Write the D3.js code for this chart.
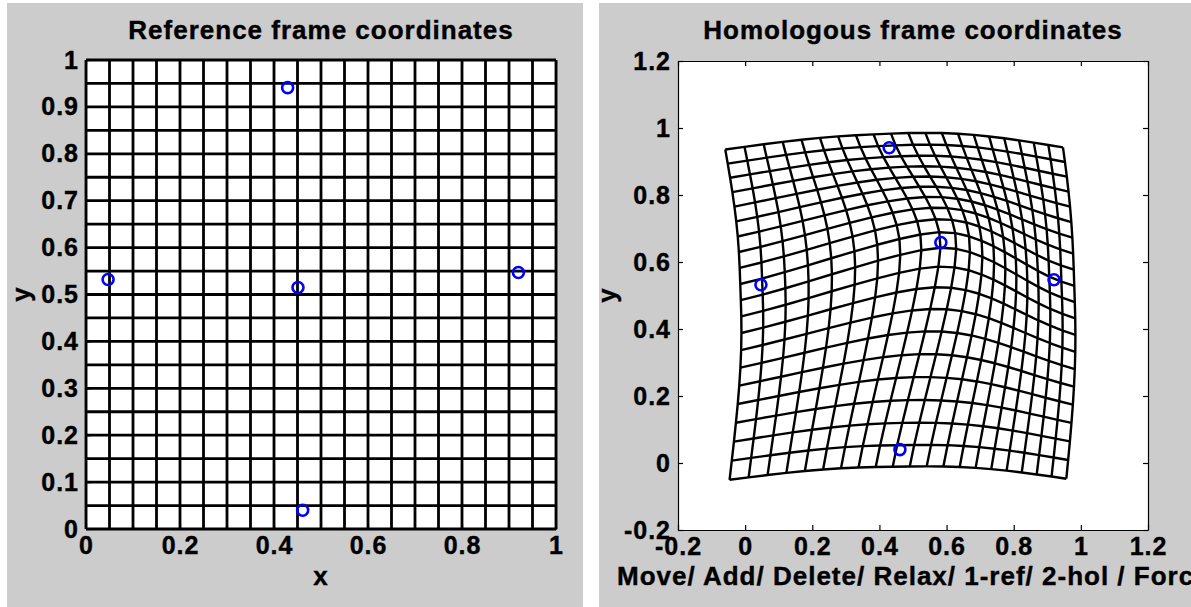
<!DOCTYPE html>
<html><head><meta charset="utf-8">
<script src="https://cdn.jsdelivr.net/npm/d3@7"></script>
<style>
body{margin:0;background:#fff}
svg{display:block}
text{font-family:"Liberation Sans",Arial,sans-serif;font-weight:bold;fill:#000}
</style>
</head><body>
<svg id="c" width="1191" height="607"></svg>
<script>
// ---------- data ----------
const gridLevels = [0,0.05,0.1,0.15,0.2,0.25,0.3,0.35,0.4,0.45,0.5,0.55,0.6,0.65,0.7,0.75,0.8,0.85,0.9,0.95,1];
const refX = [0.047,0.429,0.451,0.920,0.461];
const refY = [0.532,0.941,0.515,0.547,0.040];
const homX = [0.047,0.429,0.583,0.920,0.461];
const homY = [0.532,0.941,0.658,0.547,0.040];
const leftXTicks = [0,0.2,0.4,0.6,0.8,1];
const leftYTicks = [0,0.1,0.2,0.3,0.4,0.5,0.6,0.7,0.8,0.9,1];
const rightTicks = [-0.2,0,0.2,0.4,0.6,0.8,1,1.2];
const titles = ["Reference frame coordinates","Homologous frame coordinates"];
const xLabels = ["x","Move/ Add/ Delete/ Relax/ 1-ref/ 2-hol / Forc"];
const yLabel = "y";

// ---------- thin-plate spline from landmarks ----------
function U(r2){ return r2 === 0 ? 0 : r2*Math.log(r2); }
function solve(A, b){
  const n = b.length, M = A.map((r,i)=>r.concat([b[i]]));
  for(let c=0;c<n;c++){
    let p=c; for(let r=c+1;r<n;r++) if(Math.abs(M[r][c])>Math.abs(M[p][c])) p=r;
    [M[c],M[p]]=[M[p],M[c]];
    for(let r=0;r<n;r++){ if(r===c) continue; const f=M[r][c]/M[c][c]; for(let k=c;k<=n;k++) M[r][k]-=f*M[c][k]; }
  }
  return M.map((r,i)=>r[n]/r[i]);
}
const nL = refX.length;
const L = [];
for(let i=0;i<nL+3;i++){ L.push(new Array(nL+3).fill(0)); }
for(let i=0;i<nL;i++){
  for(let j=0;j<nL;j++){ const dx=refX[i]-refX[j], dy=refY[i]-refY[j]; L[i][j]=U(dx*dx+dy*dy); }
  L[i][nL]=1; L[i][nL+1]=refX[i]; L[i][nL+2]=refY[i];
  L[nL][i]=1; L[nL+1][i]=refX[i]; L[nL+2][i]=refY[i];
}
const cX = solve(L, homX.concat([0,0,0]));
const cY = solve(L, homY.concat([0,0,0]));
function warp(x,y){
  let wx=cX[nL]+cX[nL+1]*x+cX[nL+2]*y, wy=cY[nL]+cY[nL+1]*x+cY[nL+2]*y;
  for(let i=0;i<nL;i++){ const dx=x-refX[i], dy=y-refY[i], u=U(dx*dx+dy*dy); wx+=cX[i]*u; wy+=cY[i]*u; }
  return [wx,wy];
}

// ---------- drawing ----------
const svg = d3.select("#c");
const fmt = v => String(Math.round(v*10)/10);
svg.append("rect").attr("x",7).attr("y",3).attr("width",576).attr("height",604).attr("fill","#cccccc");
svg.append("rect").attr("x",599).attr("y",3).attr("width",592).attr("height",604).attr("fill","#cccccc");
svg.append("clipPath").attr("id","rclip").append("rect").attr("x",599).attr("y",3).attr("width",592).attr("height",604);

function panel(opt){
  const g = svg.append("g");
  const x = d3.scaleLinear().domain(opt.xd).range(opt.xr);
  const y = d3.scaleLinear().domain(opt.yd).range(opt.yr);
  g.append("rect").attr("x",opt.xr[0]).attr("y",opt.yr[1]).attr("width",opt.xr[1]-opt.xr[0]).attr("height",opt.yr[0]-opt.yr[1]).attr("fill","#fff");
  const tsize = -5;
  const axes = [
    [d3.axisBottom(x).tickValues(opt.xt).tickFormat(fmt), opt.yr[0], 0],
    [d3.axisTop(x).tickValues(opt.xt).tickFormat(""), opt.yr[1], 0],
    [d3.axisLeft(y).tickValues(opt.yt).tickFormat(fmt), 0, opt.xr[0]],
    [d3.axisRight(y).tickValues(opt.yt).tickFormat(""), 0, opt.xr[1]]
  ];
  axes.forEach(([ax,ty,tx],i)=>{
    const a = g.append("g").attr("transform",`translate(${tx},${ty})`)
      .call(ax.tickSizeInner(tsize).tickSizeOuter(0).tickPadding(7));
    a.select(".domain").attr("stroke","#000").attr("stroke-width",1.2);
    a.selectAll(".tick line").attr("stroke","#000").attr("stroke-width",1.2);
    a.selectAll(".tick text").attr("font-size",25).attr("letter-spacing","1px")
      .attr("font-family",'"Liberation Sans",Arial,sans-serif').attr("font-weight","bold")
      .attr("fill","#000").attr("stroke","#000").attr("stroke-width",0.4);
  });
  const line = d3.line().x(d=>x(d[0])).y(d=>y(d[1]));
  const grid = g.append("g").attr("fill","none").attr("stroke","#000").attr("stroke-width",opt.lw).attr("stroke-linejoin","round");
  gridLevels.forEach(v=>{
    grid.append("path").attr("d", line(gridLevels.map(u=>opt.map(v,u))));
    grid.append("path").attr("d", line(gridLevels.map(u=>opt.map(u,v))));
  });
  g.selectAll("circle.lm").data(opt.lx.map((d,i)=>[d,opt.ly[i]])).join("circle").attr("class","lm")
    .attr("cx",d=>x(d[0])).attr("cy",d=>y(d[1])).attr("r",5.5)
    .attr("fill","none").attr("stroke","#0000ff").attr("stroke-width",2.6);
  const cx = (opt.xr[0]+opt.xr[1])/2;
  g.append("text").attr("x",cx).attr("y",39).attr("text-anchor","middle").attr("font-size",26)
    .attr("letter-spacing","1px").attr("stroke","#000").attr("stroke-width",0.4).text(opt.title);
  const xl = g.append("text").attr("y",585).attr("font-size",26).attr("letter-spacing","1px")
    .attr("stroke","#000").attr("stroke-width",0.4).text(opt.xlabel);
  if(opt.xlStart){ xl.attr("x",opt.xlStart).attr("clip-path","url(#rclip)"); } else { xl.attr("x",cx).attr("text-anchor","middle"); }
  g.append("text").attr("transform",`translate(${opt.ylx},${(opt.yr[0]+opt.yr[1])/2}) rotate(-90)`)
    .attr("text-anchor","middle").attr("dy","0.35em").attr("font-size",26)
    .attr("stroke","#000").attr("stroke-width",0.4).text(yLabel);
}

panel({xd:[0,1], yd:[0,1], xr:[86,556], yr:[529,60], xt:leftXTicks, yt:leftYTicks,
  map:(a,b)=>[a,b], lx:refX, ly:refY, lw:2.8, title:titles[0], xlabel:xLabels[0], ylx:21});
panel({xd:[-0.2,1.2], yd:[-0.2,1.2], xr:[678,1148], yr:[530,61], xt:rightTicks, yt:rightTicks,
  map:(a,b)=>warp(a,b), lx:homX, ly:homY, lw:2.4, title:titles[1], xlabel:xLabels[1], xlStart:617, ylx:607});
</script>
</body></html>
